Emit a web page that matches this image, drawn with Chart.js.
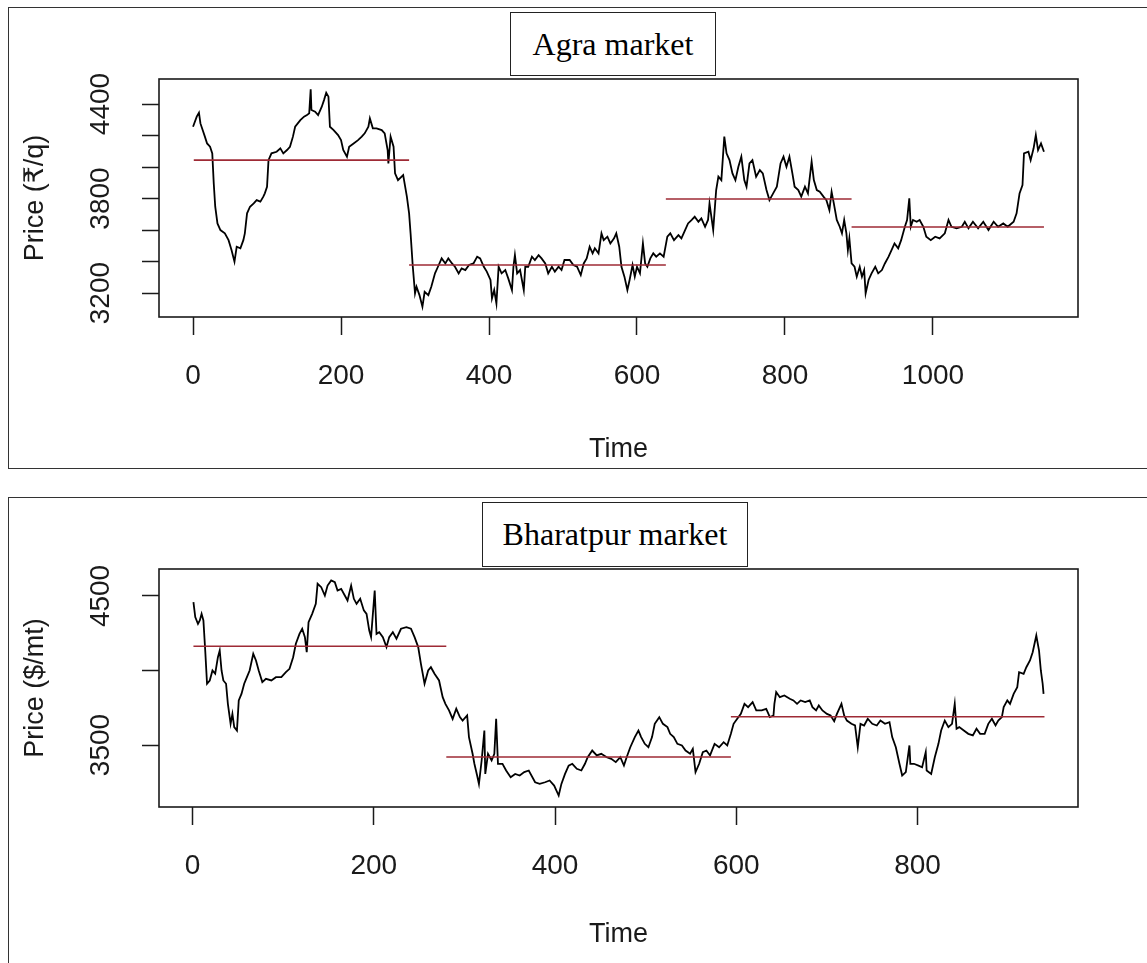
<!DOCTYPE html>
<html><head><meta charset="utf-8">
<script src="https://cdn.jsdelivr.net/npm/chart.js@4.4.1/dist/chart.umd.min.js"></script>
<style>
html,body{margin:0;padding:0;background:#fff;width:1147px;height:963px;overflow:hidden;position:relative}
.panel{position:absolute;border:1.5px solid #333;box-sizing:border-box}
#p1{left:8px;top:7px;width:1150px;height:462px}
#p2{left:8px;top:497px;width:1150px;height:480px}
.ttl{position:absolute;border:1.5px solid #222;background:#fff;font-family:'Liberation Serif','Times New Roman',serif;font-size:32px;color:#000;display:flex;align-items:center;justify-content:center;box-sizing:border-box;white-space:nowrap;z-index:5}
#t1{left:510px;top:12px;width:206px;height:64px}
#t2{left:482px;top:502px;width:266px;height:65px}
canvas{position:absolute;left:0}
#c1{top:0}
#c2{top:470px}
</style></head>
<body>
<div class="panel" id="p1"></div>
<div class="panel" id="p2"></div>
<canvas id="c1" width="1147" height="470"></canvas>
<canvas id="c2" width="1147" height="493"></canvas>
<div class="ttl" id="t1">Agra market</div>
<div class="ttl" id="t2">Bharatpur market</div>
<script>
// ---------- Agra market (time index, price ₹/q) ----------
const agraTime = [
  0,5,8,10,13,16,19,23,26,28, 30,33,37,43,48,52,56,59,64,68, 70,73,77,82,86,91,95,97,100,102,
  106,113,118,122,127,131,135,138,145,150, 154,157,159,160,165,169,174,177,180,183, 185,190,196,200,203,208,211,217,223,228,
  232,237,239,243,248,255,259,263,264,267, 271,273,277,
  284,289,292,294,297,300,302,306,310,313, 318,322,327,331,336,341,345,350,354,359, 363,368,373,379,384,388,393,397,402,404,
  407,410,413,417,422,426,431,433,435,438, 442,447,449,453,458,462,467,471,476,480, 485,489,494,498,502,509,514,519,524,528,
  532,536,540,543,548,552,555,560,564,569, 572,576,579,583,587,590,594,597,600,604, 608,611,614,618,622,626,631,636,641,645,
  650,656,660,665,669,674,678,683,687,692, 696,698,703,707,710,714,718,721,725,729, 733,737,741,745,748,752,756,761,766,770,
  775,779,784,789,
  794,798,802,806,810,813,818,822,827,831, 836,839,843,847,852,856,860,863,866,870, 874,877,880,883,885,887,890,894,897,901,
  904,907,909,913,917,922,926,931,935,940, 944,948,953,957,962,965,968,970,973,978, 982,987,991,997,1003,1009,1016,1021,1025,1032,
  1039,1043,1048,1054,1061,1068,1075,1082,1088,1095, 1101,1109,1113,1117,1121,1123,1129,1132,1136,1139, 1142,1146,1150
];
const agraPrice = [
  4256,4320,4345,4277,4235,4193,4150,4129,4087,3896, 3748,3642,3600,3579,3536,3473,3399,3494,3484,3536, 3579,3706,3748,3769,3790,3780,3812,3833,3875,4044,
  4087,4097,4119,4087,4108,4129,4193,4256,4298,4320, 4330,4341,4493,4362,4351,4330,4383,4425,4472,4447, 4256,4235,4203,4171,4108,4066,4129,4150,4171,4193,
  4214,4256,4309,4246,4246,4235,4214,4108,4023,4193, 4129,3960,3917,
  3949,3812,3706,3579,3367,3198,3240,3187,3113,3208, 3187,3240,3325,3367,3420,3388,3420,3388,3367,3325, 3357,3346,3378,3388,3431,3420,3367,3336,3283,3166,
  3219,3134,3367,3325,3346,3293,3219,3367,3441,3325, 3346,3219,3367,3367,3431,3410,3441,3420,3388,3325, 3367,3336,3367,3346,3410,3410,3378,3367,3314,3388,
  3420,3494,3452,3484,3452,3579,3536,3558,3515,3547, 3579,3494,3367,3304,3219,3283,3378,3304,3367,3325, 3515,3388,3367,3420,3452,3431,3452,3431,3558,3579,
  3536,3568,3547,3600,3642,3664,3685,3653,3674,3621, 3664,3769,3600,3854,3939,3917,4193,4087,4044,3960, 3917,4002,4066,3917,3875,4023,4044,3939,3981,3960,
  3854,3790,3833,3875,
  4023,4066,4002,4066,3960,3875,3854,3812,3875,3833, 4034,3917,3854,3843,3812,3790,3727,3843,3769,3664, 3621,3579,3664,3579,3473,3547,3388,3367,3304,3367,
  3304,3346,3198,3283,3325,3367,3325,3346,3388,3431, 3473,3515,3484,3536,3621,3664,3801,3621,3664,3653, 3664,3621,3558,3536,3558,3547,3579,3664,3621,3611,
  3621,3653,3611,3653,3611,3653,3600,3653,3621,3642, 3621,3653,3706,3833,3886,4087,4097,4044,4119,4203, 4108,4150,4097
];
const agraSegStart = [1,292,639,890];
const agraSegEnd = [292,639,890,1150];
const agraSegMean = [4044,3378,3797,3619];
const agraXTicks = [0,200,400,600,800,1000];
const agraYTicks = [3200,3400,3600,3800,4000,4200,4400];
const agraYLabels = [3200,3800,4400];

// ---------- Bharatpur market (time index, price $/mt) ----------
const bharTime = [
  1,3,6,8,10,12,14,16,19,22, 25,28,30,32,34,37,39,42,44,46, 49,51,54,57,60,63,67,70,73,77,
  81,87,92,98,103,107,111,114,118,121, 124,126,128,132,136,138,142,146,149,153, 157,160,164,168,171,175,178,181,185,189,
  192,195,197,201,203,206,210,214,217,221, 225,
  230,236,241,245,249,252,256,260,263,267, 272,276,279,283,287,291,295,298,303,305, 309,311,314,316,319,322,323,326,330,333,
  335,337,342,346,351,356,361,366,371,378, 383,389,394,399,404,407,411,415,419,424, 429,433,436,441,446,451,457,462,467,472,
  476,479,483,488,492,495,499,503,507,510, 515,519,524,527,531,535,540,544,549,552, 555,559,563,567,571,576,581,586,590,594,
  597,601,605,609,613,618,622,628,633,637, 641,
  642,644,648,653,659,663,667,671,676,681, 684,688,691,695,700,704,708,711,716,719, 722,727,731,734,737,741,745,750,755,759,
  764,769,772,776,780,783,787,791,792,796, 801,805,809,810,815,819,823,826,830,834, 838,841,843,846,851,856,861,865,869,874,
  878,882,886,889,893,895,899,902,906,910, 912,917,920,924,927,931,932,934,936,938, 939
];
const bharPrice = [
  4459,4358,4313,4336,4380,4336,4134,3911,3933,4000, 3978,4089,4134,4000,3933,3911,3776,3642,3709,3620, 3597,3799,3843,3911,3955,4000,4112,4067,4000,3922,
  3944,3933,3955,3955,3989,4011,4089,4179,4246,4280, 4224,4123,4324,4380,4447,4582,4559,4503,4570,4604, 4593,4537,4548,4503,4470,4570,4481,4447,4481,4403,
  4380,4268,4224,4537,4246,4257,4224,4157,4224,4257, 4213,
  4280,4291,4280,4224,4157,4045,3911,4000,4022,3978, 3933,3821,3776,3732,3675,3743,3687,3664,3698,3553, 3441,3374,3295,3239,3396,3597,3306,3441,3396,3441,
  3676,3374,3374,3329,3284,3306,3295,3318,3329,3250, 3239,3250,3262,3228,3161,3239,3306,3362,3374,3340, 3329,3374,3418,3463,3430,3441,3418,3407,3385,3418,
  3362,3418,3485,3553,3597,3553,3508,3485,3553,3642, 3687,3642,3620,3575,3553,3508,3497,3463,3441,3474, 3318,3374,3452,3463,3430,3508,3485,3519,3497,3575,
  3642,3676,3709,3776,3754,3787,3732,3732,3743,3687, 3698,
  3776,3855,3821,3832,3810,3799,3776,3799,3788,3799, 3754,3732,3765,3732,3709,3698,3660,3709,3776,3698, 3664,3642,3631,3485,3642,3631,3676,3642,3631,3664,
  3642,3653,3553,3485,3374,3295,3318,3497,3374,3374, 3362,3351,3452,3329,3306,3418,3508,3597,3664,3620, 3642,3776,3609,3620,3597,3575,3564,3609,3575,3575,
  3642,3676,3631,3664,3687,3754,3799,3776,3843,3888, 3989,3978,4022,4067,4123,4235,4201,4134,4000,3911, 3843
];
const bharSegStart = [1,280,594];
const bharSegEnd = [280,594,940];
const bharSegMean = [4163,3420,3690];
const bharXTicks = [0,200,400,600,800];
const bharYTicks = [3500,4000,4500];
const bharYLabels = [3500,4500];

const TICK_FONT = {family:"'Liberation Sans',Arial,sans-serif", size:28};
const TITLE_FONT = {family:"'Liberation Sans',Arial,'DejaVu Sans',sans-serif", size:27};
const INK = '#1a1a1a';

const framePlugin = {
  id:'frame',
  afterDatasetsDraw(chart){
    const {ctx, chartArea:a} = chart;
    ctx.save();
    ctx.strokeStyle = INK; ctx.lineWidth = 1.6;
    ctx.strokeRect(a.left, a.top, a.right - a.left, a.bottom - a.top);
    ctx.restore();
  }
};

function makeChart(id, time, price, s0, s1, mean, xTicks, yTicks, yLabels, xr, yr, yTitle, padTop, xAxisH, xTitlePadBottom){
  const datasets = [];
  for (let i = 0; i < mean.length; i++) {
    datasets.push({
      data:[{x:s0[i], y:mean[i]}, {x:s1[i], y:mean[i]}],
      borderColor:'#9e2a35', borderWidth:1.6, pointRadius:0, order:0
    });
  }
  const n = Math.min(time.length, price.length);
  datasets.push({
    data: time.slice(0, n).map((t, i) => ({x:t, y:price[i]})),
    borderColor:'#000', borderWidth:1.8, pointRadius:0, tension:0, order:1
  });
  return new Chart(document.getElementById(id), {
    type:'line',
    data:{datasets},
    options:{
      responsive:false, animation:false, events:[],
      layout:{padding:{top:padTop, right:69, left:0, bottom:0}},
      plugins:{legend:{display:false}, tooltip:{enabled:false}},
      scales:{
        x:{
          type:'linear', min:xr[0], max:xr[1],
          afterBuildTicks: s => { s.ticks = xTicks.map(v => ({value:v})); },
          afterFit: s => { s.height = xAxisH; },
          border:{display:false},
          grid:{display:true, drawOnChartArea:false, drawTicks:true, tickLength:18, tickWidth:1.5, tickColor:INK},
          ticks:{font:TICK_FONT, color:INK, padding:24, maxRotation:0, autoSkip:false, callback: v => String(v)},
          title:{display:true, text:'Time', font:TITLE_FONT, color:INK, padding:{top:0, bottom:xTitlePadBottom}}
        },
        y:{
          type:'linear', min:yr[0], max:yr[1],
          afterBuildTicks: s => { s.ticks = yTicks.map(v => ({value:v})); },
          afterFit: s => { s.width = 159; },
          border:{display:false},
          grid:{display:true, drawOnChartArea:false, drawTicks:true, tickLength:17, tickWidth:1.5, tickColor:INK},
          ticks:{font:TICK_FONT, color:INK, padding:10, minRotation:90, maxRotation:90, crossAlign:'center', autoSkip:false,
                 callback: v => yLabels.includes(v) ? String(v) : ''},
          title:{display:true, text:yTitle, font:TITLE_FONT, color:INK, padding:{top:19, bottom:0}}
        }
      }
    },
    plugins:[framePlugin]
  });
}

makeChart('c1', agraTime, agraPrice, agraSegStart, agraSegEnd, agraSegMean, agraXTicks, agraYTicks, agraYLabels,
  [-46, 1196], [3048, 4559], 'Price (\u20B9/q)', 79, 153, 4);
makeChart('c2', bharTime, bharPrice, bharSegStart, bharSegEnd, bharSegMean, bharXTicks, bharYTicks, bharYLabels,
  [-37, 977], [3084, 4681], 'Price ($/mt)', 99, 156, 12);
</script>
</body></html>
